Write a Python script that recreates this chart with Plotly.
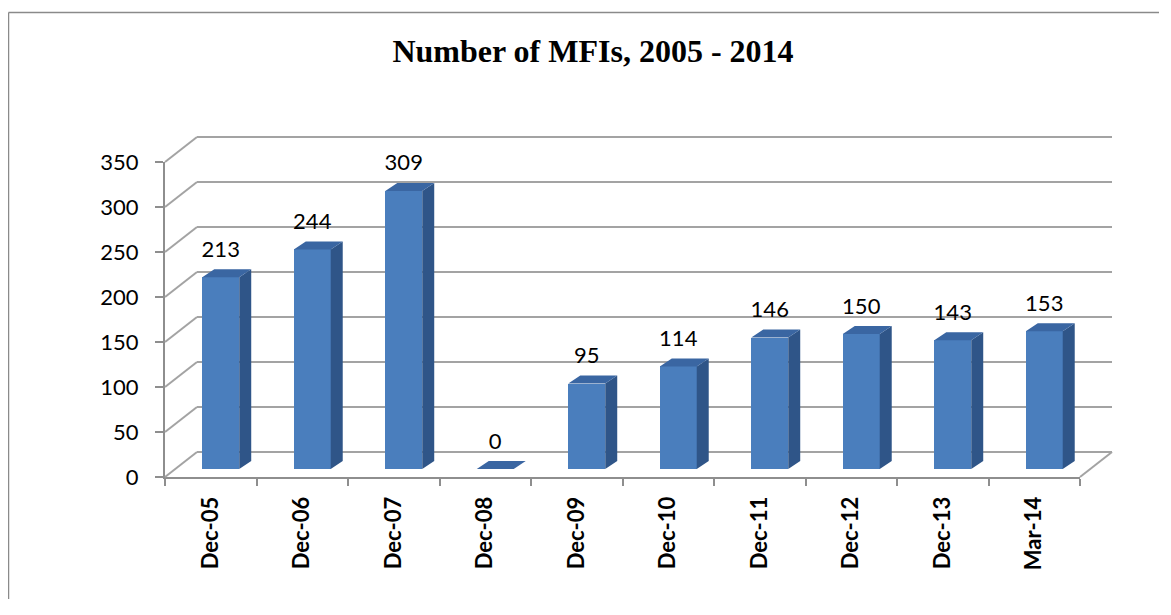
import plotly.graph_objects as go

# ---------------- data ----------------
categories = ["Dec-05", "Dec-06", "Dec-07", "Dec-08", "Dec-09",
              "Dec-10", "Dec-11", "Dec-12", "Dec-13", "Mar-14"]
values = [213, 244, 309, 0, 95, 114, 146, 150, 143, 153]
y_ticks = [0, 50, 100, 150, 200, 250, 300, 350]
title_text = "Number of MFIs, 2005 - 2014"

# ---------------- geometry (pixels, in window coordinates) ----------------
PAGE_MARGIN = 8              # default body margin of the html page
WIN_W, WIN_H = 1171, 615
W, H = WIN_W - 2 * PAGE_MARGIN - 4, WIN_H - 2 * PAGE_MARGIN - 8
PX = 0.9                     # pixels per unit on the value axis
FRONT_X = (165, 1080)        # front floor left/right
FRONT_Y0 = 477               # front floor (value 0)
BACK_DX, BACK_DY = 32, -25   # offset of the back wall
BAR_DX, BAR_DY = 10, -8      # offset of bar front faces
SIDE_DX, SIDE_DY = 12, 8     # depth of bars (px)
BAR_W = 0.404                # bar width in category units
LABEL_UP = 26                # data label centre above bar top (px)

n = len(categories)
idx = list(range(n))
cat_px = (FRONT_X[1] - FRONT_X[0]) / n


def fx(p):
    return (p - PAGE_MARGIN) / W


def fy(p):
    return 1 - (p - PAGE_MARGIN) / H


def ydomain(zero_px, lo, hi):
    return [fy(zero_px - lo * PX), fy(zero_px - hi * PX)]


GRID = "#a3a3a3"
AXIS = "#8e8e8e"
FRONT = "#4a7ebd"
TOP = "#3a66a2"
SIDE = "#2f5588"
FONT = "Lato"

fig = go.Figure()

# front axes subplot (x, y): invisible trace carrying the categories
fig.add_trace(go.Scatter(x=categories, y=[0] * n, mode="markers",
                         marker=dict(opacity=0), hoverinfo="skip",
                         showlegend=False, xaxis="x", yaxis="y"))
# back wall subplot (x2, y2)
fig.add_trace(go.Scatter(x=[0], y=[0], mode="markers",
                         marker=dict(opacity=0), hoverinfo="skip",
                         showlegend=False, xaxis="x2", yaxis="y2"))

# bars subplot (x3, y3)
dxu = SIDE_DX / cat_px
dyu = SIDE_DY / PX
fig.add_trace(go.Bar(x=idx, y=values, width=BAR_W,
                     marker=dict(color=FRONT, line=dict(width=0)),
                     showlegend=False, xaxis="x3", yaxis="y3",
                     hovertext=categories, hoverinfo="text+y"))

side_x, side_y, top_x, top_y = [], [], [], []
for i, v in zip(idx, values):
    r = i + BAR_W / 2
    l = i - BAR_W / 2
    side_x += [r, r + dxu, r + dxu, r, r, None]
    side_y += [0, dyu, v + dyu, v, 0, None]
    top_x += [l, r, r + dxu, l + dxu, l, None]
    top_y += [v, v, v + dyu, v + dyu, v, None]

fig.add_trace(go.Scatter(x=side_x, y=side_y, mode="lines", fill="toself",
                         fillcolor=SIDE, line=dict(width=0, color=SIDE),
                         hoverinfo="skip", showlegend=False,
                         xaxis="x3", yaxis="y3"))
fig.add_trace(go.Scatter(x=top_x, y=top_y, mode="lines", fill="toself",
                         fillcolor=TOP, line=dict(width=0, color=TOP),
                         hoverinfo="skip", showlegend=False,
                         xaxis="x3", yaxis="y3"))

# data labels
fig.add_trace(go.Scatter(x=idx, y=[v + LABEL_UP / PX for v in values],
                         mode="text", text=[str(v) for v in values],
                         textposition="middle center",
                         textfont=dict(family=FONT, size=22, color="black"),
                         cliponaxis=False, hoverinfo="skip",
                         showlegend=False, xaxis="x3", yaxis="y3"))

# ---------------- shapes: side-wall diagonals, floor, border ----------------
shapes = []
for v in y_ticks:
    yf = FRONT_Y0 - v * PX
    shapes.append(dict(type="line", xref="paper", yref="paper",
                       x0=fx(FRONT_X[0]), y0=fy(yf),
                       x1=fx(FRONT_X[0] + BACK_DX), y1=fy(yf + BACK_DY),
                       line=dict(color=GRID, width=2)))
shapes.append(dict(type="line", xref="paper", yref="paper",
                   x0=fx(FRONT_X[1]), y0=fy(FRONT_Y0),
                   x1=fx(FRONT_X[1] + BACK_DX), y1=fy(FRONT_Y0 + BACK_DY),
                   line=dict(color=GRID, width=2)))
# outer chart frame: only its left and top edges fall inside the picture
BORDER = dict(color="#8a8a8a", width=1.5)
shapes.append(dict(type="line", xref="paper", yref="paper",
                   x0=fx(8.5), y0=fy(12.5), x1=fx(8.5), y1=0, line=BORDER))
shapes.append(dict(type="line", xref="paper", yref="paper",
                   x0=fx(8.5), y0=fy(12.5), x1=1, y1=fy(12.5), line=BORDER))

back_lo, back_hi = -5, 355
bar_lo, bar_hi = 0, 380

fig.update_layout(
    template="none",
    width=W, height=H, autosize=False,
    margin=dict(l=0, r=0, t=0, b=0, pad=0, autoexpand=False),
    paper_bgcolor="white", plot_bgcolor="rgba(0,0,0,0)",
    font=dict(family=FONT, color="black"),
    title=dict(text="<b>" + title_text + "</b>", x=fx(593), y=fy(51),
               xanchor="center", yanchor="middle", xref="paper", yref="paper",
               automargin=False,
               font=dict(family="Liberation Serif", size=32, color="black")),
    shapes=shapes,
    xaxis=dict(domain=[fx(FRONT_X[0]), fx(FRONT_X[1])], anchor="y",
               type="category", range=[-0.5, n - 0.5], automargin=False,
               tickson="boundaries", ticks="outside", ticklen=7,
               tickcolor=AXIS, tickwidth=1.5,
               showline=True, linecolor=AXIS, linewidth=2,
               showgrid=False, zeroline=False, tickangle=-90,
               ticklabelstandoff=9,
               tickfont=dict(family=FONT, size=22, color="black", weight="bold")),
    yaxis=dict(domain=ydomain(FRONT_Y0, 0, 350), anchor="x",
               range=[0, 350], tickvals=y_ticks, automargin=False,
               ticks="outside", ticklen=8, tickcolor=AXIS, tickwidth=1.5,
               showline=True, linecolor=AXIS, linewidth=2,
               showgrid=False, zeroline=False, ticklabelstandoff=12,
               tickfont=dict(family=FONT, size=22, color="black")),
    xaxis2=dict(domain=[fx(FRONT_X[0] + BACK_DX), fx(FRONT_X[1] + BACK_DX)],
                anchor="y2", range=[0, 1], visible=False, automargin=False),
    yaxis2=dict(domain=ydomain(FRONT_Y0 + BACK_DY, back_lo, back_hi),
                anchor="x2", range=[back_lo, back_hi], tickvals=y_ticks,
                showticklabels=False, ticks="", showline=False, automargin=False,
                showgrid=True, gridcolor=GRID, gridwidth=2, zeroline=False),
    xaxis3=dict(domain=[fx(FRONT_X[0] + BAR_DX), fx(FRONT_X[1] + BAR_DX)],
                anchor="y3", range=[-0.5, n - 0.5], visible=False,
                automargin=False),
    yaxis3=dict(domain=ydomain(FRONT_Y0 + BAR_DY, bar_lo, bar_hi),
                anchor="x3", range=[bar_lo, bar_hi], visible=False,
                automargin=False),
    bargap=0,
)

fig.write_html("out.html")
